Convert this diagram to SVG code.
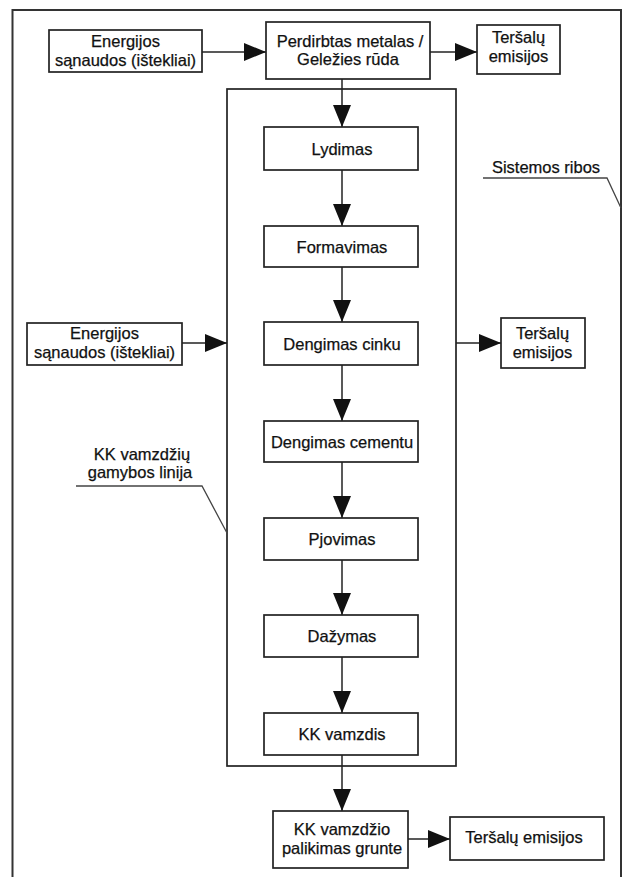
<svg xmlns="http://www.w3.org/2000/svg" width="624" height="877" viewBox="0 0 624 877">
<defs>
<style>
.bx{fill:#fff;stroke:#222;stroke-width:1.7}
.fr{fill:none;stroke:#333;stroke-width:2}
.cn{fill:none;stroke:#222;stroke-width:1.5}
.ld{fill:none;stroke:#444;stroke-width:1.3}
text{font-family:"Liberation Sans",Arial,sans-serif;font-size:16.5px;fill:#111;stroke:#111;stroke-width:0.25;text-anchor:middle}
</style>
<marker id="ah" markerUnits="userSpaceOnUse" markerWidth="22" markerHeight="18" refX="22" refY="9" orient="auto" viewBox="0 0 22 18">
<path d="M0,0 L22,9 L0,18 Z" fill="#111"/>
</marker>
</defs>
<rect width="624" height="877" fill="#fff"/>
<g id="system-boundary">
<path class="fr" d="M12.5,877 V10 H621 V877"/>
<path class="ld" d="M483,178 H607 L621,208"/>
<text x="546" y="173">Sistemos ribos</text>
</g>
<g id="production-line">
<rect class="bx" x="227" y="89" width="229" height="677" style="fill:none"/>
<path class="ld" d="M76,486 H202 L227,533"/>
<text x="142" y="460">KK vamzdžių</text>
<text x="140" y="478">gamybos linija</text>
</g>
<g id="connectors">
<path class="cn" d="M202,52 H266" marker-end="url(#ah)"/>
<path class="cn" d="M430,52 H477" marker-end="url(#ah)"/>
<path class="cn" d="M342,79 V127" marker-end="url(#ah)"/>
<path class="cn" d="M342,170 V226" marker-end="url(#ah)"/>
<path class="cn" d="M342,267 V322" marker-end="url(#ah)"/>
<path class="cn" d="M342,365 V421" marker-end="url(#ah)"/>
<path class="cn" d="M342,462 V518" marker-end="url(#ah)"/>
<path class="cn" d="M342,560 V615" marker-end="url(#ah)"/>
<path class="cn" d="M342,657 V713" marker-end="url(#ah)"/>
<path class="cn" d="M342,755 V811" marker-end="url(#ah)"/>
<path class="cn" d="M182,343 H227" marker-end="url(#ah)"/>
<path class="cn" d="M456,343 H501" marker-end="url(#ah)"/>
<path class="cn" d="M408,839 H450" marker-end="url(#ah)"/>
</g>
<g id="energy-top">
<rect class="bx" x="49" y="30" width="153" height="42"/>
<text x="125.5" y="47">Energijos</text>
<text x="125.5" y="66">sąnaudos (ištekliai)</text>
</g>
<g id="raw-material">
<rect class="bx" x="266" y="22" width="164" height="57"/>
<text x="350" y="46.5">Perdirbtas metalas /</text>
<text x="348" y="65">Geležies rūda</text>
</g>
<g id="emissions-top">
<rect class="bx" x="477" y="25" width="83" height="49"/>
<text x="518.5" y="43">Teršalų</text>
<text x="518.5" y="62">emisijos</text>
</g>
<g id="lydimas">
<rect class="bx" x="264" y="127" width="154" height="43"/>
<text x="342" y="155">Lydimas</text>
</g>
<g id="formavimas">
<rect class="bx" x="264" y="226" width="154" height="41"/>
<text x="342" y="253">Formavimas</text>
</g>
<g id="dengimas-cinku">
<rect class="bx" x="264" y="322" width="154" height="43"/>
<text x="342" y="350">Dengimas cinku</text>
</g>
<g id="dengimas-cementu">
<rect class="bx" x="264" y="421" width="154" height="41"/>
<text x="342" y="448">Dengimas cementu</text>
</g>
<g id="pjovimas">
<rect class="bx" x="264" y="518" width="154" height="42"/>
<text x="342" y="545">Pjovimas</text>
</g>
<g id="dazymas">
<rect class="bx" x="264" y="615" width="154" height="42"/>
<text x="342" y="642">Dažymas</text>
</g>
<g id="kk-vamzdis">
<rect class="bx" x="264" y="713" width="154" height="42"/>
<text x="342" y="740">KK vamzdis</text>
</g>
<g id="energy-mid">
<rect class="bx" x="27" y="323" width="155" height="42"/>
<text x="104.5" y="339">Energijos</text>
<text x="104.5" y="358">sąnaudos (ištekliai)</text>
</g>
<g id="emissions-mid">
<rect class="bx" x="501" y="318" width="84" height="50"/>
<text x="542.5" y="339">Teršalų</text>
<text x="542.5" y="358">emisijos</text>
</g>
<g id="disposal">
<rect class="bx" x="273" y="811" width="135" height="57"/>
<text x="342" y="835">KK vamzdžio</text>
<text x="342" y="854">palikimas grunte</text>
</g>
<g id="emissions-bottom">
<rect class="bx" x="450" y="817" width="154" height="43"/>
<text x="524" y="843">Teršalų emisijos</text>
</g>
</svg>
